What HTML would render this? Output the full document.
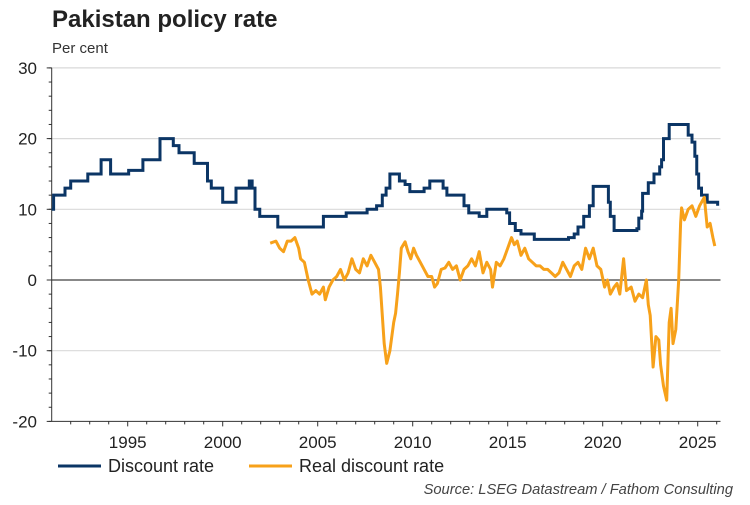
<!DOCTYPE html>
<html><head><meta charset="utf-8"><style>
body{margin:0;background:#fff;font-family:"Liberation Sans",Arial,sans-serif;}
svg text{font-family:"Liberation Sans",Arial,sans-serif;}
</style></head><body>
<svg width="750" height="500" viewBox="0 0 750 500" xmlns="http://www.w3.org/2000/svg">
<text x="52" y="27" font-size="24" font-weight="bold" fill="#222">Pakistan policy rate</text>
<text x="52" y="53" font-size="15" fill="#333">Per cent</text>
<g id="grid"></g>
<g id="axes"></g>
<g id="series"></g>
<g>
<line x1="58" y1="466" x2="101" y2="466" stroke="#0b3565" stroke-width="3"/>
<text x="108" y="472" font-size="18" fill="#222">Discount rate</text>
<line x1="249" y1="466" x2="292" y2="466" stroke="#f7a11a" stroke-width="3"/>
<text x="299" y="472" font-size="18" fill="#222">Real discount rate</text>
</g>
<text x="733" y="494" font-size="14.7" font-style="italic" fill="#444" text-anchor="end">Source: LSEG Datastream / Fathom Consulting</text>
</svg>
<script>
const yTicks=[30,20,10,0,-10,-20];
const xTickYears=[1995,2000,2005,2010,2015,2020,2025];
const discountYears=[1991,1991.1,1991.7,1992,1992.9,1993.6,1994.1,1995.05,1995.8,1996.7,1997.4,1997.7,1998.5,1999.2,1999.4,2000,2000.7,2001.4,2001.55,2001.7,2001.95,2002.9,2005.3,2006.5,2007.6,2008.1,2008.4,2008.6,2008.8,2009.3,2009.6,2009.85,2010.6,2010.9,2011.6,2011.8,2012.7,2012.95,2013.5,2013.9,2014.95,2015.1,2015.4,2015.7,2016.4,2018.2,2018.5,2018.7,2019,2019.3,2019.5,2020.3,2020.4,2020.6,2021.8,2021.9,2022.05,2022.1,2022.4,2022.7,2023,2023.1,2023.2,2023.5,2024.5,2024.7,2024.85,2024.95,2025.05,2025.2,2025.5,2026.05];
const discountValues=[10,12,13,14,15,17,15,15.5,17,20,19,18,16.5,14,13,11,13,14,13,10,9,7.5,9,9.5,10,10.5,12,13,15,14,13.5,12.5,13,14,13,12,10.5,9.5,9,10,9.5,8,7,6.5,5.75,6,6.5,7.5,9,10.5,13.25,11,9,7,7.25,8.75,9.75,12.25,13.75,15,16,17,20,22,20.5,19.5,17.5,15,13,12,11,10.5];
const realYears=[2002.5,2002.8,2003,2003.2,2003.4,2003.6,2003.8,2004,2004.1,2004.3,2004.5,2004.7,2004.9,2005.1,2005.3,2005.4,2005.6,2005.8,2006,2006.2,2006.4,2006.6,2006.8,2007,2007.2,2007.4,2007.6,2007.8,2008,2008.2,2008.3,2008.4,2008.5,2008.63,2008.8,2009,2009.1,2009.2,2009.3,2009.4,2009.6,2009.75,2009.9,2010.05,2010.2,2010.4,2010.6,2010.8,2011,2011.15,2011.3,2011.5,2011.7,2011.9,2012.1,2012.3,2012.5,2012.7,2012.9,2013.1,2013.3,2013.5,2013.7,2013.9,2014.1,2014.2,2014.4,2014.6,2014.8,2015,2015.2,2015.35,2015.5,2015.7,2015.9,2016.1,2016.3,2016.5,2016.7,2016.9,2017.1,2017.3,2017.5,2017.7,2017.9,2018.1,2018.3,2018.5,2018.7,2018.9,2019.1,2019.3,2019.5,2019.7,2019.9,2020.1,2020.25,2020.4,2020.6,2020.75,2020.9,2021.1,2021.25,2021.5,2021.7,2021.9,2022.1,2022.3,2022.4,2022.5,2022.65,2022.8,2022.95,2023.05,2023.2,2023.37,2023.5,2023.6,2023.7,2023.85,2024,2024.1,2024.15,2024.3,2024.5,2024.7,2024.9,2025.1,2025.35,2025.5,2025.65,2025.8,2025.9];
const realValues=[5.2,5.5,4.5,4,5.5,5.5,6,4.5,3,2.5,0,-2,-1.5,-2,-1,-2.8,-1,0,0.5,1.5,0,1,3,1.5,1,3,2,3.5,2.5,1.5,-1,-5,-9,-11.8,-10,-6,-4.7,-2,1,4.5,5.4,4,3,4.5,3.5,2.5,1.5,0.5,0.5,-1,-0.5,1.5,1.7,2.5,1.5,2,0,1.5,2,3,2,4,1,2.5,1.5,-1,2.5,2,3,4.5,6,5,5.5,3.5,4.5,3,2.5,2,2,1.5,1.5,1,0.5,1,2.5,1.5,0.5,2,2.5,1.5,4.5,3,4.5,2,1.5,-1,0,-2,-1,-0.5,-2,3,-1.5,-1,-3,-2,-2.5,0,-3.5,-5,-12.3,-8,-8.5,-12,-15,-17,-6,-4,-9,-7,0,8,10.2,8.5,10,10.5,9,10.5,11.7,7.5,8,6,4.8];
const NS='http://www.w3.org/2000/svg';
const xScale=y=>602.7+19*(y-2020);
const yScale=v=>280-7.07*v;
const X0=xScale(1991),X1=xScale(2026.2);
function mk(t,a,p){const e=document.createElementNS(NS,t);for(const k in a)e.setAttribute(k,a[k]);p.appendChild(e);return e;}
const grid=document.getElementById('grid'),axes=document.getElementById('axes'),series=document.getElementById('series');
yTicks.forEach(v=>{
  if(v!==0&&v!==-20){const g=mk('line',{x1:X0,x2:X1,y1:yScale(v),y2:yScale(v),stroke:'#d9d9d9','stroke-width':1.2},grid);
  
  }
  const t=mk('text',{x:37,y:yScale(v)+6,'font-size':17,fill:'#222','text-anchor':'end'},axes);t.textContent=v;
  
  
  mk('line',{x1:X0-5,x2:X0,y1:yScale(v),y2:yScale(v),stroke:'#333'},axes);
});
for(let v=-20;v<=30;v+=2){mk('line',{x1:X0-3,x2:X0,y1:yScale(v),y2:yScale(v),stroke:'#333'},axes);}
const zl=mk('line',{x1:X0,x2:X1,y1:yScale(0),y2:yScale(0),stroke:'#111','stroke-width':1},axes);


const ya=mk('line',{x1:X0,x2:X0,y1:yScale(30),y2:yScale(-20),stroke:'#333'},axes);


const xa=mk('line',{x1:X0,x2:X1,y1:yScale(-20),y2:yScale(-20),stroke:'#333'},axes);


for(let y=1992;y<=2026;y++){const maj=xTickYears.includes(y);mk('line',{x1:xScale(y),x2:xScale(y),y1:yScale(-20),y2:yScale(-20)+(maj?5:3),stroke:'#333'},axes);}
xTickYears.forEach(y=>{const t=mk('text',{x:xScale(y),y:448,'font-size':17,fill:'#222','text-anchor':'middle'},axes);t.textContent=y;
  
  });
function stepPath(xs,vs){let d='M'+xScale(xs[0])+','+yScale(vs[0]);for(let i=1;i<xs.length;i++){d+=' H'+xScale(xs[i])+' V'+yScale(vs[i]);}return d;}
function linePath(xs,vs){return xs.map((x,i)=>(i?'L':'M')+xScale(x).toFixed(1)+','+yScale(vs[i]).toFixed(1)).join(' ');}
const p1=mk('path',{d:stepPath(discountYears,discountValues),fill:'none',stroke:'#0b3565','stroke-width':3},series);


const p2=mk('path',{d:linePath(realYears,realValues),fill:'none',stroke:'#f7a11a','stroke-width':3,'stroke-linejoin':'round'},series);


</script>
</body></html>
